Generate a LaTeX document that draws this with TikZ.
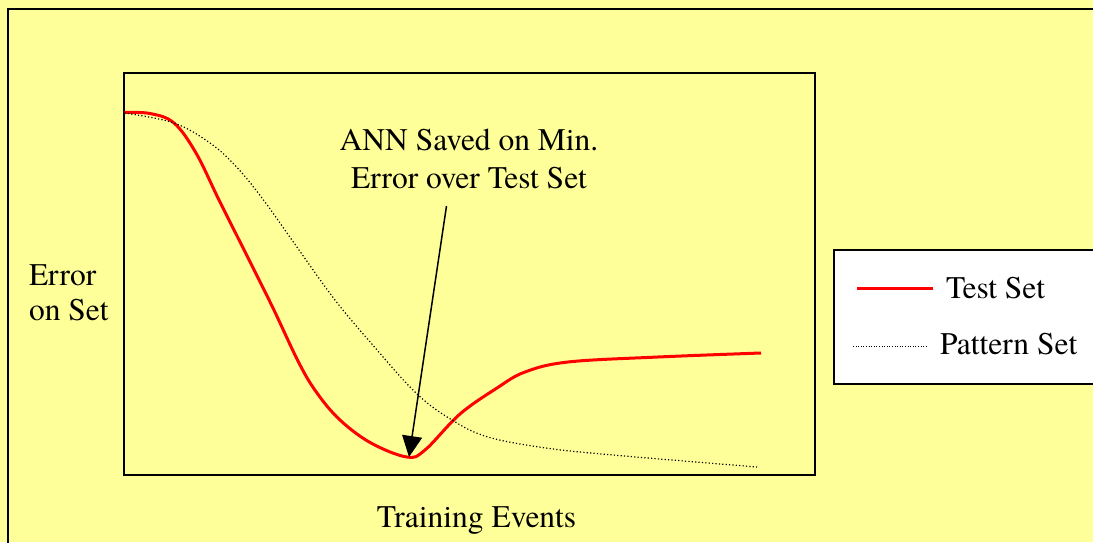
\documentclass[tikz,border=0pt]{standalone}
\usepackage{fontspec}
\setmainfont{texgyretermes-regular.otf}
\usepackage{tikz}
\usetikzlibrary{arrows.meta, positioning}

\definecolor{paper}{HTML}{FFFF99}

\begin{document}
\begin{tikzpicture}[x=1pt, y=-1pt, > = {Triangle[length=21pt,width=20pt]}]

\tikzstyle{txt} = [inner sep=0pt, outer sep=0pt, anchor=base, font=\fontsize{31.5}{38}\selectfont]
\tikzstyle{frm} = [draw=black, line width=2pt]
\tikzstyle{tst} = [draw=red, line width=3pt, line join=round]
\tikzstyle{pat} = [draw=black, line width=1.2pt, dash pattern=on 1.2pt off 2.2pt]

% page and outer frame
\useasboundingbox (0,0) rectangle (1093,542);
\clip (0,0) rectangle (1093,542);
\fill[paper] (0,0) rectangle (1093,542);
\draw[frm] (8,9) rectangle (1110,560);

% plot area
\draw[frm] (124,73) rectangle (815,475);

% test set curve
\path[tst] plot[smooth, tension=0.6] coordinates {
    (124.5,112.5) (150,113.5) (174,123) (196,153) (219,200) (245.6,253)
    (272.5,307) (299,363) (317,393) (340,420) (371,443) (407,457)
    (425,450) (460,414) (497,388) (525,372) (568,362) (658,357) (761,353)};

% pattern set curve
\path[pat] plot[smooth, tension=0.6] coordinates {
    (124.5,113) (174,123) (210,143) (236.6,167) (263.5,200) (299,250)
    (335,300) (371,343) (416,393) (452,420) (488,437) (546,448)
    (613,455) (757,467)};

% annotation
\node[txt] (ann1) at (469,150) {ANN Saved on Min.};
\node[txt] (ann2) at (469,188) {Error over Test Set};
\coordinate (atail) at (446.5,206);
\coordinate (minpt) at (409,457);
\draw[->, line width=1.5pt] (atail) -- (minpt);

% axis labels
\node[txt, anchor=base west] (err1) at (29,285) {Error};
\node[txt, anchor=base west] (err2) at (29,320) {on Set};
\node[txt] (evts) at (476.5,527) {Training Events};

% legend
\draw[frm, fill=white] (834,250) rectangle (1110,384);
\coordinate (la) at (857,288);
\coordinate (lb) at (933,288);
\coordinate (lc) at (853,346);
\coordinate (ld) at (927,346);
\draw[draw=red, line width=3pt] (la) -- (lb);
\draw[draw=black, line width=1pt, dash pattern=on 1pt off 1.6pt] (lc) -- (ld);
\node[txt, anchor=base west] (ltst) at (946,298) {Test Set};
\node[txt, anchor=base west] (lpat) at (940,354) {Pattern Set};

\end{tikzpicture}
\end{document}
